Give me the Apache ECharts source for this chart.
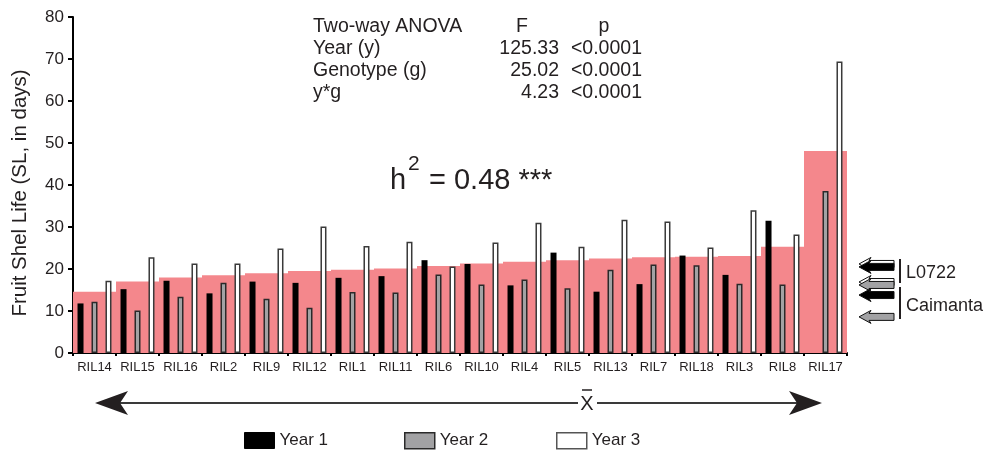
<!DOCTYPE html>
<html>
<head>
<meta charset="utf-8">
<script src="https://cdn.jsdelivr.net/npm/echarts@6/dist/echarts.min.js"></script>
<style>html,body{margin:0;padding:0;background:#fff;}#c{width:994px;height:451px;}</style>
</head>
<body>
<div id="c"></div>
<script>
// ---- data ----
var categories = ['RIL14','RIL15','RIL16','RIL2','RIL9','RIL12','RIL1','RIL11','RIL6','RIL10','RIL4','RIL5','RIL13','RIL7','RIL18','RIL3','RIL8','RIL17'];
var meanSL = [14.6, 17.0, 18.0, 18.5, 19.0, 19.5, 19.8, 20.1, 20.7, 21.3, 21.7, 22.1, 22.5, 22.8, 22.9, 23.1, 25.3, 48.1];
var year1 = [11.8, 15.2, 17.2, 14.2, 17.0, 16.7, 17.9, 18.3, 22.1, 21.2, 16.1, 23.9, 14.6, 16.4, 23.2, 18.6, 31.5, null];
var year2 = [12.2, 10.1, 13.4, 16.7, 12.9, 10.8, 14.5, 14.4, 18.7, 16.3, 17.5, 15.4, 19.8, 21.1, 20.9, 16.5, 16.3, 38.6];
var year3 = [17.2, 22.8, 21.3, 21.3, 24.9, 30.1, 25.5, 26.5, 20.6, 26.3, 31.0, 25.3, 31.7, 31.3, 25.1, 34.0, 28.2, 69.4];
// parental values [Year 1, Year 2, Year 3]
var parentL0722 = [20.5, 16.2, 21.2];
var parentCaimanta = [13.8, 8.6, 16.9];
var yTicks = {min: 0, max: 80, interval: 10};
var yTitle = 'Fruit Shel Life (SL, in days)';
var seriesNames = ['Year 1', 'Year 2', 'Year 3'];
var anovaRows = [
  ['Two-way ANOVA', 'F', 'p'],
  ['Year (y)', '125.33', '<0.0001'],
  ['Genotype (g)', '25.02', '<0.0001'],
  ['y*g', '4.23', '<0.0001']
];
var heritability = '0.48';

// ---- styles ----
var TXT = '#231f20';
var FONT = 'Liberation Sans, Arial, sans-serif';
var yearFill = ['#000000', '#a2a2a4', '#ffffff'];
var yearBorder = ['#000000', '#2a2a2a', '#3a3a3a'];
var legendBorder = ['#000000', '#2a2a2a', '#555555'];
var legendLeft = [239, 399, 551];

var arrowData = [];
[2, 1, 0].forEach(function (yi) {
  arrowData.push([yi, parentL0722[yi]]);
  arrowData.push([yi, parentCaimanta[yi]]);
});

var chart = echarts.init(document.getElementById('c'), null, {renderer: 'canvas'});

var AF = '19.5px ' + FONT;
var graphics = [];
// y axis title
graphics.push({type: 'text', x: 20, y: 193, rotation: Math.PI / 2, style: {text: yTitle, font: '20.5px ' + FONT, fill: TXT, align: 'center', verticalAlign: 'middle'}});
// ANOVA table
var rowY = [27, 49, 71, 93];
anovaRows.forEach(function (r, i) {
  graphics.push({type: 'text', x: 313, y: rowY[i], style: {text: r[0], font: AF, fill: TXT, verticalAlign: 'middle'}});
  if (i === 0) {
    graphics.push({type: 'text', x: 522, y: rowY[i], style: {text: r[1], font: AF, fill: TXT, align: 'center', verticalAlign: 'middle'}});
    graphics.push({type: 'text', x: 604, y: rowY[i], style: {text: r[2], font: AF, fill: TXT, align: 'center', verticalAlign: 'middle'}});
  } else {
    graphics.push({type: 'text', x: 559, y: rowY[i], style: {text: r[1], font: AF, fill: TXT, align: 'right', verticalAlign: 'middle'}});
    graphics.push({type: 'text', x: 642, y: rowY[i], style: {text: r[2], font: AF, fill: TXT, align: 'right', verticalAlign: 'middle'}});
  }
});
// h^2
graphics.push({type: 'text', x: 390, y: 181, style: {text: 'h', font: '29px ' + FONT, fill: TXT, verticalAlign: 'middle'}});
graphics.push({type: 'text', x: 408, y: 164, style: {text: '2', font: '21px ' + FONT, fill: TXT, verticalAlign: 'middle'}});
graphics.push({type: 'text', x: 429, y: 181, style: {text: '= ' + heritability + ' ***', font: '29px ' + FONT, fill: TXT, verticalAlign: 'middle'}});
// parent labels
graphics.push({type: 'line', shape: {x1: 900, y1: 259, x2: 900, y2: 283}, style: {stroke: TXT, lineWidth: 2}});
graphics.push({type: 'line', shape: {x1: 900, y1: 287, x2: 900, y2: 319}, style: {stroke: TXT, lineWidth: 2}});
graphics.push({type: 'text', x: 906, y: 273, style: {text: 'L0722', font: '18px ' + FONT, fill: TXT, verticalAlign: 'middle'}});
graphics.push({type: 'text', x: 906, y: 306, style: {text: 'Caimanta', font: '18px ' + FONT, fill: TXT, verticalAlign: 'middle'}});
// mean axis arrow
graphics.push({type: 'line', shape: {x1: 115, y1: 403, x2: 578, y2: 403}, style: {stroke: '#3a3a3a', lineWidth: 2}});
graphics.push({type: 'line', shape: {x1: 597, y1: 403, x2: 805, y2: 403}, style: {stroke: '#3a3a3a', lineWidth: 2}});
graphics.push({type: 'polygon', shape: {points: [[95, 403], [128, 391], [120, 403], [128, 415]]}, style: {fill: TXT}});
graphics.push({type: 'polygon', shape: {points: [[822, 403], [789, 391], [797, 403], [789, 415]]}, style: {fill: TXT}});
graphics.push({type: 'text', x: 587, y: 404, style: {text: 'X', font: '20px ' + FONT, fill: TXT, align: 'center', verticalAlign: 'middle'}});
graphics.push({type: 'line', shape: {x1: 582, y1: 390, x2: 592, y2: 390}, style: {stroke: TXT, lineWidth: 1.5}});

var legends = seriesNames.map(function (n, i) {
  return {
    left: legendLeft[i], top: 427, itemWidth: 30, itemHeight: 16, icon: 'rect',
    textStyle: {fontSize: 17, color: TXT, fontFamily: FONT},
    data: [{name: n, itemStyle: {color: yearFill[i], borderColor: legendBorder[i], borderWidth: i === 0 ? 1 : 1.5}}]
  };
});

var option = {
  animation: false,
  backgroundColor: '#fff',
  textStyle: {fontFamily: FONT},
  grid: {left: 73, right: 147, top: 17, bottom: 98, containLabel: false},
  legend: legends,
  xAxis: [
    {
      type: 'category', data: categories,
      axisLine: {lineStyle: {color: '#000', width: 2}},
      axisTick: {show: true, length: 3, lineStyle: {color: '#000', width: 2}},
      axisLabel: {fontSize: 13, color: TXT, margin: 8, interval: 0, fontFamily: FONT}
    },
    {type: 'category', data: categories, show: false}
  ],
  yAxis: {
    type: 'value', min: yTicks.min, max: yTicks.max, interval: yTicks.interval,
    axisLine: {show: true, lineStyle: {color: '#000', width: 2}},
    axisTick: {show: true, length: 5, lineStyle: {color: '#000', width: 2}},
    axisLabel: {fontSize: 17, color: TXT, margin: 9, fontFamily: FONT},
    splitLine: {show: false}
  },
  series: [
    {
      name: 'Mean', type: 'bar', xAxisIndex: 1, data: meanSL, barWidth: '100%', z: 1,
      itemStyle: {color: '#f4878c'}, silent: true
    },
    {
      name: seriesNames[0], type: 'bar', data: year1, barWidth: 6, barGap: '133%', z: 3,
      itemStyle: {color: yearFill[0], borderColor: yearBorder[0], borderWidth: 0}
    },
    {
      name: seriesNames[1], type: 'bar', data: year2, barWidth: 6, barGap: '133%', z: 3,
      itemStyle: {color: yearFill[1], borderColor: yearBorder[1], borderWidth: 1.5}
    },
    {
      name: seriesNames[2], type: 'bar', data: year3, barWidth: 6, barGap: '133%', z: 3,
      itemStyle: {color: yearFill[2], borderColor: yearBorder[2], borderWidth: 1.5}
    },
    {
      name: 'Parents', type: 'custom', clip: false, z: 4, data: arrowData,
      renderItem: function (params, api) {
        var yi = api.value(0);
        var y = api.coord([0, api.value(1)])[1];
        var cs = params.coordSys;
        var tip = cs.x + cs.width + 12;
        var L = 35, hl = 12, hh = 13, sh = 7;
        var pts = [[tip, y], [tip + hl, y - hh / 2], [tip + hl - 2, y - sh / 2], [tip + L, y - sh / 2], [tip + L, y + sh / 2], [tip + hl - 2, y + sh / 2], [tip + hl, y + hh / 2]];
        return {type: 'polygon', shape: {points: pts}, style: {fill: yearFill[yi], stroke: '#111', lineWidth: 1}};
      }
    }
  ],
  graphic: graphics
};
chart.setOption(option);
</script>
</body>
</html>
